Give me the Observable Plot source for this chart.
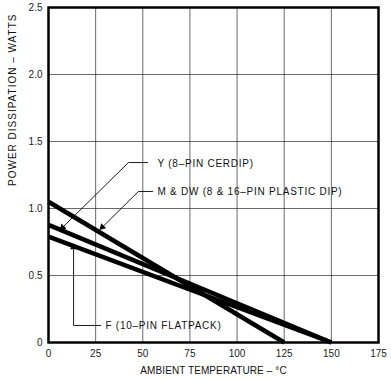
<!DOCTYPE html>
<html><head><meta charset="utf-8">
<script src="https://cdn.jsdelivr.net/npm/d3@7"></script>
<script src="https://cdn.jsdelivr.net/npm/@observablehq/plot@0.6"></script>
<style>html,body{margin:0;padding:0;background:#fff}svg{display:block}</style>
</head><body><div id="chart"></div>
<script>
// Series: ambient temperature (°C) vs power dissipation (W)
const seriesKeys = ["Y", "M & DW", "F"];
const yTemps = [0, 125];
const yPower = [1.05, 0];
const mTemps = [0, 150];
const mPower = [0.878, 0];
const fTemps = [0, 150];
const fPower = [0.79, 0];

// Axes
const xTicks = [0, 25, 50, 75, 100, 125, 150, 175];
const yTicks = [0, 0.5, 1.0, 1.5, 2.0, 2.5];
const yTickLabels = ["0", "0.5", "1.0", "1.5", "2.0", "2.5"];
const xTitle = "AMBIENT TEMPERATURE \u2013 \u00B0C";
const yTitle = "POWER DISSIPATION \u2013 WATTS";

// Annotations (data coordinates)
const labelTexts = ["Y (8\u2013PIN CERDIP)", "M & DW (8 & 16\u2013PIN PLASTIC DIP)", "F (10\u2013PIN FLATPACK)"];
const labelTemps = [57.8, 57.8, 30.2];
const labelPower = [1.336, 1.122, 0.127];
const leaderTemps = [[52.5, 42.4, 7.4], [55.2, 47.7, 28.5], [27.6, 13.3, 13.3]];
const leaderPower = [[1.343, 1.343, 0.858], [1.127, 1.127, 0.860], [0.127, 0.127, 0.711]];
const arrowAngles = [225, 225, 0];

const lines = [
  ...yTemps.map((t, i) => ({k: seriesKeys[0], t, p: yPower[i]})),
  ...mTemps.map((t, i) => ({k: seriesKeys[1], t, p: mPower[i]})),
  ...fTemps.map((t, i) => ({k: seriesKeys[2], t, p: fPower[i]}))
];
const labels = labelTexts.map((s, i) => ({s, t: labelTemps[i], p: labelPower[i]}));
const leaders = leaderTemps.flatMap((ts, j) => ts.map((t, i) => ({j, t, p: leaderPower[j][i]})));
const tips = leaderTemps.map((ts, j) => ({t: ts[ts.length - 1], p: leaderPower[j][ts.length - 1], a: arrowAngles[j]}));

const font = "'Liberation Sans', Arial, Helvetica, sans-serif";
const chart = Plot.plot({
  width: 391,
  height: 380,
  marginLeft: 48,
  marginRight: 13,
  marginTop: 7,
  marginBottom: 38,
  style: {fontSize: "10px", fontFamily: font, color: "#000", background: "#fff"},
  x: {domain: [0, 175]},
  y: {domain: [0, 2.5]},
  marks: [
    Plot.gridX(xTicks, {stroke: "#222", strokeOpacity: 0.85, strokeWidth: 0.8}),
    Plot.gridY(yTicks, {stroke: "#222", strokeOpacity: 0.85, strokeWidth: 0.8}),
    Plot.axisX({ticks: xTicks, tickSize: 0, tickPadding: 7, label: null, fill: "#222"}),
    Plot.axisY({ticks: yTicks, tickSize: 0, tickPadding: 6, label: null, fill: "#222",
      tickFormat: (d) => yTickLabels[yTicks.indexOf(d)]}),
    Plot.line(lines, {x: "t", y: "p", z: "k", stroke: "#000", strokeWidth: 4.5, strokeLinecap: "butt"}),
    Plot.line(leaders, {x: "t", y: "p", z: "j", stroke: "#000", strokeWidth: 0.9}),
    Plot.dot(tips, {x: "t", y: "p", symbol: "triangle", r: 2.6, fill: "#000", rotate: "a"}),
    Plot.text(labels, {x: "t", y: "p", text: "s", textAnchor: "start", fontSize: 10, fill: "#111"}),
    Plot.text([xTitle], {frameAnchor: "bottom", dy: 31, fontSize: 10, fill: "#111"}),
    Plot.text([yTitle], {frameAnchor: "left", rotate: -90, dx: -36, dy: 11, fontSize: 10, fill: "#111"}),
    Plot.frame({stroke: "#000", strokeWidth: 2.5})
  ]
});
const textGroups = chart.querySelectorAll('g[aria-label="text"]');
if (textGroups[0]) textGroups[0].style.letterSpacing = "0.75px";
if (textGroups[1]) textGroups[1].style.letterSpacing = "0.1px";
if (textGroups[2]) textGroups[2].style.letterSpacing = "1px";
document.getElementById("chart").appendChild(chart);
</script>
</body></html>
